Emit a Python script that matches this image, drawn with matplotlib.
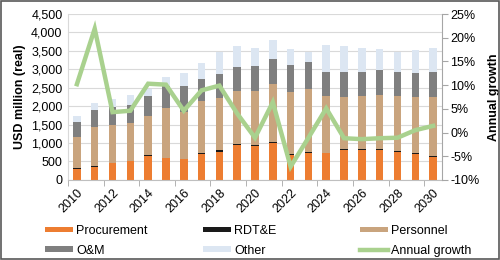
import numpy as np
import matplotlib
matplotlib.use('Agg')
import matplotlib.pyplot as plt
from matplotlib.patches import Rectangle

plt.rcParams['font.family'] = ['Liberation Sans', 'DejaVu Sans']

years = list(range(2010, 2031))
procurement = [300, 355, 455, 510, 650, 590, 555, 700, 765, 940, 920, 990, 670, 735, 720, 810, 825, 825, 765, 700, 630]
rdte = [10, 10, 10, 15, 15, 15, 15, 40, 35, 35, 40, 35, 35, 35, 20, 25, 20, 20, 25, 25, 25]
personnel = [860, 1080, 1015, 1015, 1065, 1335, 1260, 1400, 1430, 1425, 1460, 1565, 1680, 1690, 1540, 1415, 1425, 1465, 1490, 1525, 1595]
om = [410, 455, 490, 500, 540, 610, 710, 590, 630, 650, 660, 700, 725, 750, 650, 670, 670, 660, 650, 650, 675]
other = [150, 200, 220, 260, 210, 240, 370, 440, 620, 570, 500, 510, 430, 270, 740, 710, 630, 580, 550, 630, 645]
growth = [10.2, 21.9, 4.3, 4.6, 10.3, 10.1, 4.6, 8.9, 9.9, 4.0, -1.1, 6.4, -7.2, -1.1, 5.1, -1.2, -1.4, -1.2, -1.1, 0.5, 1.4]

c_proc = '#ED7D31'
c_rdte = '#1A1A1A'
c_pers = '#C9A47E'
c_om = '#7F7F7F'
c_other = '#DCE6F2'
c_line = '#A9D18E'

fig = plt.figure(figsize=(5, 2.6), dpi=100)
ax = fig.add_axes([0.136, 0.308, 0.748, 0.638])

x = np.arange(len(years))
w = 0.42
bottom = np.zeros(len(years))
series = [(procurement, c_proc, 'Procurement'), (rdte, c_rdte, 'RDT&E'),
          (personnel, c_pers, 'Personnel'), (om, c_om, 'O&M'), (other, c_other, 'Other')]
handles = []
for vals, col, lab in series:
    b = ax.bar(x, vals, w, bottom=bottom, color=col, zorder=2, label=lab)
    bottom += np.array(vals)
    handles.append(b)

ax.set_xlim(-0.5, len(years) - 0.5)
ax.set_ylim(0, 4500)
ax.set_yticks(range(0, 4501, 500))
ax.set_yticklabels([f'{v:,}' for v in range(0, 4501, 500)], fontsize=9)
ax.yaxis.grid(True, color='#D9D9D9', linewidth=0.8, zorder=0)
ax.set_axisbelow(True)
ax.tick_params(axis='y', length=0, pad=4)
ax.set_ylabel('USD million (real)', fontsize=9, fontweight='bold', labelpad=4)

ax.set_xticks(x[::2])
ax.set_xticklabels([str(y) for y in years[::2]], rotation=45, ha='right',
                   rotation_mode='anchor', fontsize=9)
ax.tick_params(axis='x', length=0, pad=5)
ax.set_xticks(np.arange(-0.5, len(years), 2), minor=True)
ax.tick_params(axis='x', which='minor', length=4, color='#A6A6A6')

for s in ['top', 'right']:
    ax.spines[s].set_visible(False)
ax.spines['left'].set_color('#D9D9D9')
ax.spines['bottom'].set_color('#BFBFBF')

ax2 = ax.twinx()
ln, = ax2.plot(x, growth, color=c_line, linewidth=3.2, label='Annual growth', zorder=3,
               solid_joinstyle='miter')
ax2.set_ylim(-10, 25)
ax2.set_yticks(range(-10, 26, 5))
ax2.set_yticklabels([f'{v}%' for v in range(-10, 26, 5)], fontsize=9)
ax2.tick_params(axis='y', length=4, color='#A6A6A6', pad=2)
for s in ['top', 'left', 'bottom']:
    ax2.spines[s].set_visible(False)
ax2.spines['right'].set_color('#A6A6A6')
ax2.set_ylabel('Annual growth', fontsize=9, fontweight='bold', labelpad=6)

# legend: three columns of two rows, placed like the original
hs = handles + [ln]
labs = ['Procurement', 'RDT&E', 'Personnel', 'O&M', 'Other', 'Annual growth']
cols = [(0, 3), (1, 4), (2, 5)]
col_x = [45, 203, 360]
for (i, j), cx in zip(cols, col_x):
    leg = fig.legend([hs[i], hs[j]], [labs[i], labs[j]], loc='upper left',
                     bbox_to_anchor=(cx / 500, 1 - 225 / 260), frameon=False, fontsize=9,
                     handlelength=2.2, handleheight=0.35, handletextpad=0.3,
                     labelspacing=0.62, borderpad=0, borderaxespad=0)

fig.patches.append(Rectangle((0.001, 0.002), 0.997, 0.995, transform=fig.transFigure,
                             fill=False, edgecolor='#595959', linewidth=1.2))

fig.savefig('out.png', dpi=100)
